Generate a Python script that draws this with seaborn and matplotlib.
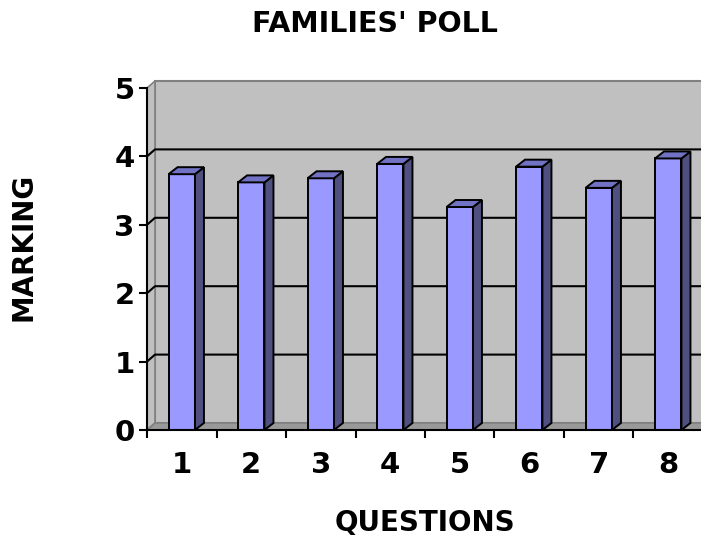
import numpy as np
import pandas as pd
import matplotlib
matplotlib.use("Agg")
import matplotlib.pyplot as plt
from matplotlib.patches import Polygon, Rectangle
import seaborn as sns

questions = ["1", "2", "3", "4", "5", "6", "7", "8"]
marking = [3.74, 3.62, 3.68, 3.89, 3.26, 3.85, 3.54, 3.97]
y_ticks = [0, 1, 2, 3, 4, 5]

df = pd.DataFrame({"Question": questions, "Marking": marking})

sns.set_theme(style="white")
plt.rcParams["font.family"] = ["DejaVu Sans"]
plt.rcParams["font.weight"] = "bold"

fig = plt.figure(figsize=(7.01, 5.38), dpi=100)
ax = fig.add_axes([147 / 701, 108 / 538, 556 / 701, 342 / 538])

sns.barplot(data=df, x="Question", y="Marking", color="#9999FF", saturation=1,
            width=0.38, edgecolor="black", linewidth=1.4, ax=ax, zorder=3)
bars = list(ax.patches)
ax.set_xlim(-0.5, len(questions) - 0.5)
ax.set_ylim(0, 5)
ax.patch.set_alpha(0)


def px(dx, dy):
    # pixel offset -> data offset
    o = ax.transData.transform((0, 0))
    p = ax.transData.inverted().transform((o[0] + dx, o[1] + dy))
    return p[0], p[1]


# walls of the 3d box
left, right, top = -0.5, len(questions) - 0.5, 5
wx, wy = px(8, 7)
ax.add_patch(Rectangle((left + wx, wy), right - left, top, fc="#C0C0C0", ec="#808080",
                       lw=1.5, zorder=0.5, clip_on=False))
ax.add_patch(Polygon([(left, 0), (left + wx, wy), (left + wx, top + wy), (left, top)],
                     fc="#C0C0C0", ec="#808080", lw=1.2, zorder=0.6, clip_on=False))
ax.add_patch(Polygon([(left, 0), (right, 0), (right + wx, wy), (left + wx, wy)],
                     fc="#999999", ec="#808080", lw=1.2, zorder=0.6, clip_on=False))
for v in y_ticks[1:-1]:
    ax.plot([left, left + wx, right + wx], [v, v + wy, v + wy], color="black",
            lw=1.5, zorder=1, clip_on=False)

# bar sides and tops
bx, by = px(9, 7)
for b in bars:
    x0, w, h = b.get_x(), b.get_width(), b.get_height()
    ax.add_patch(Polygon([(x0 + w, 0), (x0 + w + bx, by), (x0 + w + bx, h + by), (x0 + w, h)],
                         fc="#4F4F80", ec="black", lw=1.4, zorder=3, clip_on=False))
    ax.add_patch(Polygon([(x0, h), (x0 + bx, h + by), (x0 + w + bx, h + by), (x0 + w, h)],
                         fc="#7272C4", ec="black", lw=1.4, zorder=3, clip_on=False))

for s in ["top", "right"]:
    ax.spines[s].set_visible(False)
for s in ["left", "bottom"]:
    ax.spines[s].set_color("black")
    ax.spines[s].set_linewidth(1.5)
    ax.spines[s].set_zorder(4)

ax.set_yticks(y_ticks)
ax.tick_params(axis="y", left=True, direction="out", length=6, width=1.5, pad=3,
               labelsize=21, color="black", labelcolor="black")
ax.set_xticks(np.arange(-0.5, len(questions)), minor=True)
ax.tick_params(axis="x", which="major", bottom=False, length=0, pad=15,
               labelsize=21, labelcolor="black")
ax.tick_params(axis="x", which="minor", bottom=True, direction="out", length=6,
               width=1.5, color="black")

ax.set_xlabel("QUESTIONS", fontsize=20, fontweight="bold", color="black")
ax.xaxis.set_label_coords(0.5, -0.23)
ax.set_ylabel("MARKING", fontsize=20, fontweight="bold", color="black", va="center")
ax.yaxis.set_label_coords(-0.223, 0.535)

fig.text(375 / 701, 1 - 23.5 / 538, "FAMILIES' POLL", ha="center", va="center",
         fontsize=20.5, fontweight="bold", color="black")

fig.savefig("out.png", dpi=100)
